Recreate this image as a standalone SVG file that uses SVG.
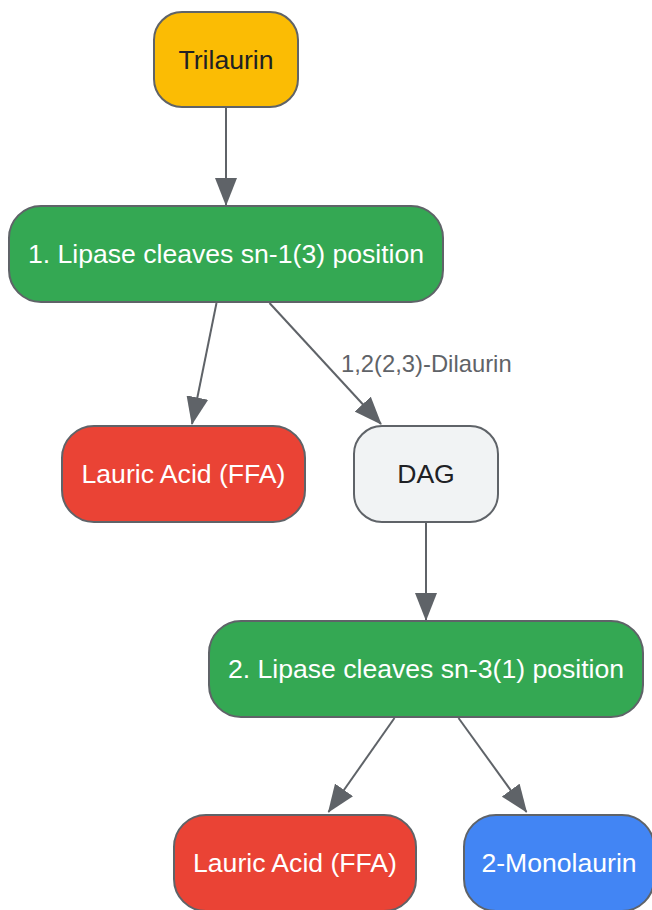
<svg xmlns="http://www.w3.org/2000/svg" width="652" height="910" viewBox="0 0 652 910">
<style>
.n{stroke:#5f6368;stroke-width:2}
.t{font-family:"Liberation Sans",Arial,sans-serif;font-size:26.6px;text-anchor:middle}
.w{fill:#ffffff}
.d{fill:#202124}
.e{stroke:#5f6368;stroke-width:2;fill:none;marker-end:url(#ah)}
.lbl{font-family:"Liberation Sans",Arial,sans-serif;font-size:23.8px;fill:#5f6368}
</style>
<defs>
<marker id="ah" markerUnits="userSpaceOnUse" markerWidth="28" markerHeight="22" viewBox="0 0 28 22" refX="27" refY="11" orient="auto">
<path d="M0,0 L28,11 L0,22 z" fill="#5f6368"/>
</marker>
</defs>
<g id="edges">
<line class="e" x1="226" y1="108" x2="226" y2="205"/>
<line class="e" x1="216.5" y1="303" x2="192" y2="424"/>
<line class="e" x1="269.5" y1="303" x2="381" y2="424"/>
<text class="lbl" x="341" y="372">1,2(2,3)-Dilaurin</text>
<line class="e" x1="426" y1="523" x2="426" y2="620"/>
<line class="e" x1="394.5" y1="718" x2="328.5" y2="812"/>
<line class="e" x1="458.5" y1="718" x2="526.5" y2="812"/>
</g>
<g id="trilaurin">
<rect class="n" x="154" y="12" width="144" height="95" rx="28" fill="#fbbc04"/>
<text class="t d" x="226" y="69">Trilaurin</text>
</g>
<g id="step1">
<rect class="n" x="9" y="206" width="434" height="96" rx="32" fill="#34a853"/>
<text class="t w" x="226" y="263">1. Lipase cleaves sn-1(3) position</text>
</g>
<g id="ffa1">
<rect class="n" x="62" y="426" width="243" height="96" rx="32" fill="#ea4335"/>
<text class="t w" x="183.5" y="483">Lauric Acid (FFA)</text>
</g>
<g id="dag">
<rect class="n" x="354" y="426" width="144" height="96" rx="28" fill="#f1f3f4"/>
<text class="t d" x="426" y="483">DAG</text>
</g>
<g id="step2">
<rect class="n" x="209" y="621" width="434" height="96" rx="32" fill="#34a853"/>
<text class="t w" x="426" y="678">2. Lipase cleaves sn-3(1) position</text>
</g>
<g id="ffa2">
<rect class="n" x="174" y="815" width="242" height="96" rx="32" fill="#ea4335"/>
<text class="t w" x="295" y="872">Lauric Acid (FFA)</text>
</g>
<g id="mono">
<rect class="n" x="464" y="815" width="190" height="96" rx="32" fill="#4285f4"/>
<text class="t w" x="559" y="872">2-Monolaurin</text>
</g>
</svg>
